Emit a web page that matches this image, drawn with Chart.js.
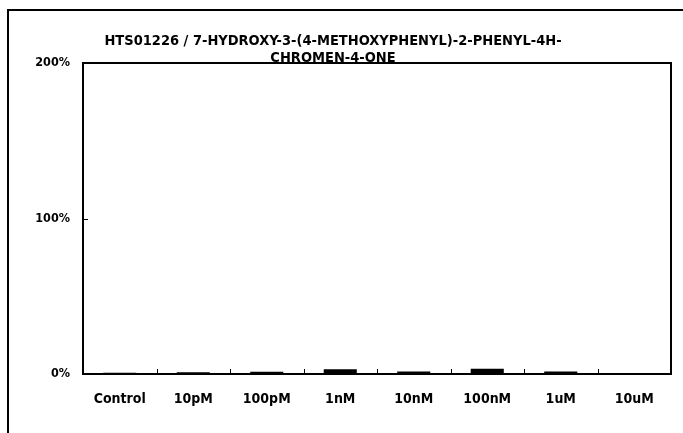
<!DOCTYPE html>
<html>
<head>
<meta charset="utf-8">
<script src="https://cdn.jsdelivr.net/npm/chart.js@4.4.0/dist/chart.umd.min.js"></script>
<style>
  html, body { margin: 0; padding: 0; background: #fff; }
  #wrap { width: 683px; height: 433px; position: relative; }
</style>
</head>
<body>
<div id="wrap"><canvas id="chart" width="683" height="433"></canvas></div>
<script>
const titleLines = ['HTS01226 / 7-HYDROXY-3-(4-METHOXYPHENYL)-2-PHENYL-4H-', 'CHROMEN-4-ONE']
const doses = ['Control', '10pM', '100pM', '1nM', '10nM', '100nM', '1uM', '10uM']
const responses = [0.8, 1.2, 1.4, 3.0, 1.6, 3.4, 1.6, 0.3]
const yTicks = [0, 100, 200]

const FONT = '"DejaVu Sans Condensed", "Liberation Sans", sans-serif'

// frame, inner ticks and title drawn on top of the chart
const framePlugin = {
  id: 'frame',
  beforeDraw: (chart) => {
    const ctx = chart.ctx
    ctx.save()
    ctx.strokeStyle = '#000'
    ctx.lineWidth = 2
    ctx.beginPath()
    ctx.moveTo(8, 433)
    ctx.lineTo(8, 10)
    ctx.lineTo(683, 10)
    ctx.stroke()
    ctx.restore()
  },
  afterDraw: (chart) => {
    const ctx = chart.ctx
    const area = chart.chartArea
    const x = chart.scales.x
    const y = chart.scales.y
    ctx.save()
    ctx.strokeStyle = '#000'
    ctx.lineWidth = 2
    ctx.strokeRect(area.left, area.top, area.right - area.left, area.bottom - area.top)

    ctx.lineWidth = 1
    ctx.beginPath()
    for (let i = 1; i < doses.length; i++) {
      const px = Math.round((x.getPixelForValue(i - 1) + x.getPixelForValue(i)) / 2) + 0.5
      ctx.moveTo(px, area.bottom)
      ctx.lineTo(px, area.bottom - 5)
    }
    yTicks.slice(1, -1).forEach(v => {
      const py = Math.round(y.getPixelForValue(v)) + 0.5
      ctx.moveTo(area.left, py)
      ctx.lineTo(area.left + 5, py)
    })
    ctx.stroke()

    ctx.fillStyle = '#000'
    ctx.font = 'bold 14.5px ' + FONT
    ctx.textAlign = 'center'
    ctx.textBaseline = 'middle'
    ctx.fillText(titleLines[0], 333, 41)
    ctx.fillText(titleLines[1], 333, 58)
    ctx.restore()
  }
}

new Chart(document.querySelector('#chart'), {
  type: 'bar',
  data: {
    labels: doses,
    datasets: [{
      data: responses,
      backgroundColor: '#000',
      borderWidth: 0,
      barPercentage: 0.45,
      categoryPercentage: 1
    }]
  },
  options: {
    responsive: false,
    animation: false,
    layout: { padding: { top: 63, right: 12, bottom: 0, left: 0 } },
    plugins: {
      legend: { display: false },
      title: { display: false },
      tooltip: { enabled: false }
    },
    scales: {
      x: {
        grid: { display: false },
        border: { display: false },
        ticks: {
          color: '#000',
          padding: 9,
          maxRotation: 0,
          font: { family: FONT, size: 14, weight: 'bold' }
        },
        afterFit: (s) => { s.height = 433 - 374 }
      },
      y: {
        min: 0,
        max: 200,
        grid: { display: false },
        border: { display: false },
        afterBuildTicks: (s) => { s.ticks = yTicks.map(v => ({ value: v })) },
        ticks: {
          color: '#000',
          padding: 5,
          font: { family: FONT, size: 12.5, weight: 'bold' },
          callback: (v) => v + '%'
        },
        afterFit: (s) => { s.width = 83 }
      }
    }
  },
  plugins: [framePlugin]
})
</script>
</body>
</html>
